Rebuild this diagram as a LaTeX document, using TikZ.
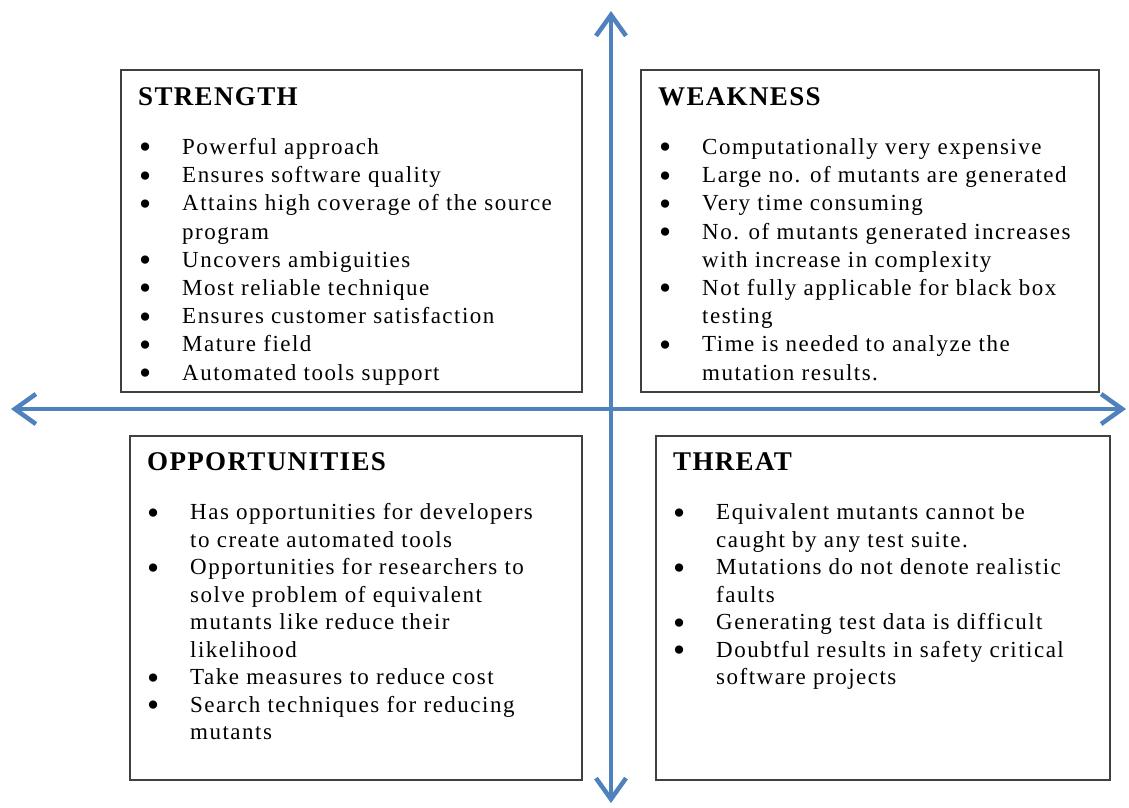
\documentclass[tikz,border=0pt]{standalone}
\usepackage{fontspec}
\setmainfont{Liberation Serif}
\newfontfamily\bodyfont{Liberation Serif}[LetterSpace=6.5]
\newfontfamily\headfont{Liberation Serif}[LetterSpace=5]
\usetikzlibrary{arrows.meta}
\definecolor{axisblue}{RGB}{79,129,189}
\definecolor{boxgray}{RGB}{64,64,64}
\newcommand{\bul}{\strut\makebox[43pt][l]{\smash{\raisebox{-4.5pt}{\scalebox{1.5}{\textbullet}}}}}
\newcommand{\cnt}{\strut\hspace*{43pt}}
\begin{document}
\begin{tikzpicture}[x=1pt,y=-1pt,
  quad/.style={draw=boxgray, line width=2pt, anchor=north west, inner sep=0pt},
  head/.style={anchor=base west, inner sep=0pt, font=\headfont\bfseries\fontsize{27}{28}\selectfont},
  list/.style={anchor=north west, inner sep=0pt, align=left},
  toplist/.style={list, font=\bodyfont\fontsize{23}{28.2}\selectfont},
  botlist/.style={list, font=\bodyfont\fontsize{23}{27.5}\selectfont},
  axis/.style={draw=axisblue, line width=4.5pt, {Straight Barb[length=21pt,width=30pt]}-{Straight Barb[length=21pt,width=30pt]}}]
\useasboundingbox (0,0) rectangle (1129,807);
\fill[white] (0,0) rectangle (1129,807);
% boxes
\node[quad, minimum width=461pt, minimum height=322pt] (sbox) at (120,69) {};
\node[quad, minimum width=458pt, minimum height=322pt] (wbox) at (640,69) {};
\node[quad, minimum width=452pt, minimum height=344pt] (obox) at (129,435) {};
\node[quad, minimum width=454pt, minimum height=344pt] (tbox) at (655,435) {};
% headings
\node[head] (sh) at (138,105) {STRENGTH};
\node[head] (wh) at (658,105) {WEAKNESS};
\node[head] (oh) at (147,470) {OPPORTUNITIES};
\node[head] (th) at (673,470) {THREAT};
% lists
\node[toplist] (sl) at (139,134.5) {%
\bul Powerful approach\\
\bul Ensures software quality\\
\bul Attains high coverage of the source\\
\cnt program\\
\bul Uncovers ambiguities\\
\bul Most reliable technique\\
\bul Ensures customer satisfaction\\
\bul Mature field\\
\bul Automated tools support};
\node[toplist] (wl) at (659,134.5) {%
\bul Computationally very expensive\\
\bul Large no. of mutants are generated\\
\bul Very time consuming\\
\bul No. of mutants generated increases\\
\cnt with increase in complexity\\
\bul Not fully applicable for black box\\
\cnt testing\\
\bul Time is needed to analyze the\\
\cnt mutation results.};
\node[botlist] (ol) at (147,500.5) {%
\bul Has opportunities for developers\\
\cnt to create automated tools\\
\bul Opportunities for researchers to\\
\cnt solve problem of equivalent\\
\cnt mutants like reduce their\\
\cnt likelihood\\
\bul Take measures to reduce cost\\
\bul Search techniques for reducing\\
\cnt mutants};
\node[botlist] (tl) at (673,500.5) {%
\bul Equivalent mutants cannot be\\
\cnt caught by any test suite.\\
\bul Mutations do not denote realistic\\
\cnt faults\\
\bul Generating test data is difficult\\
\bul Doubtful results in safety critical\\
\cnt software projects};
% axes
\coordinate (top) at (611,11);
\coordinate (bottom) at (611,803);
\coordinate (left) at (11,409);
\coordinate (right) at (1126,409);
\draw[axis] (bottom) -- (top);
\draw[axis] (left) -- (right);
\end{tikzpicture}
\end{document}
